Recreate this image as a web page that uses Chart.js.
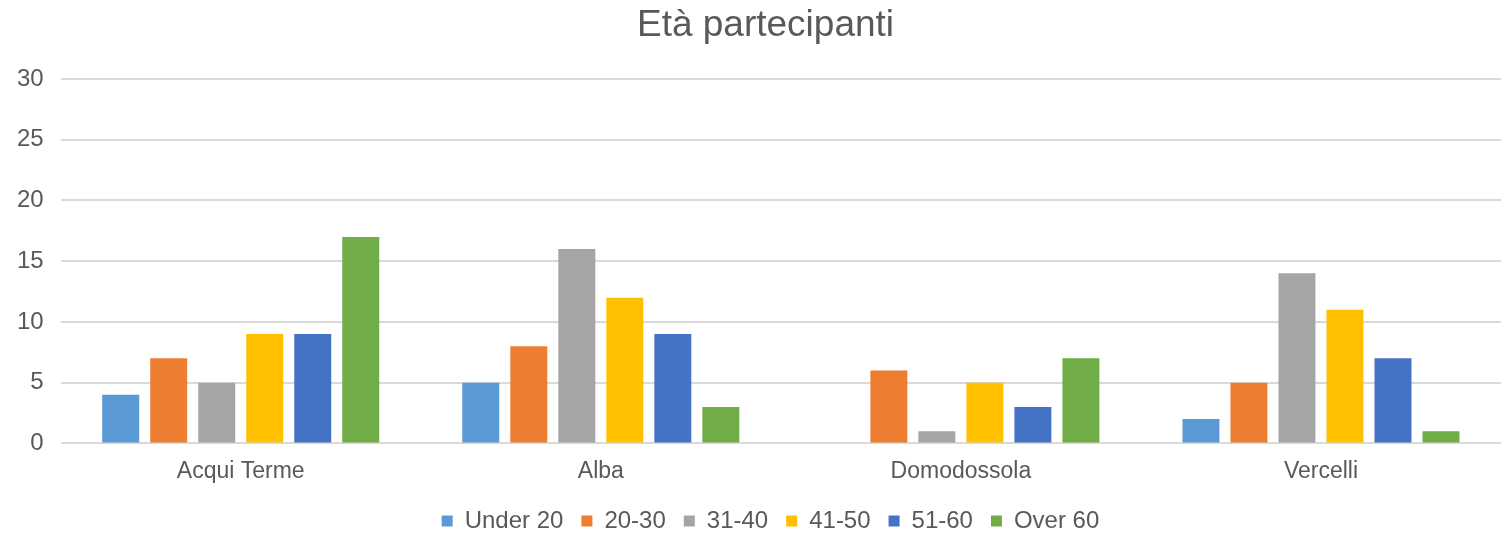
<!DOCTYPE html>
<html>
<head>
<meta charset="utf-8">
<script src="https://cdn.jsdelivr.net/npm/chart.js@4/dist/chart.umd.min.js"></script>
<style>
  html, body { margin: 0; padding: 0; background: #fff; }
  #wrap { width: 1501px; height: 533px; }
</style>
</head>
<body>
<div id="wrap"><canvas id="chart"></canvas></div>
<script>
// data
const chartTitle = "Età partecipanti";
const cities = ["Acqui Terme", "Alba", "Domodossola", "Vercelli"];
const seriesNames = ["Under 20", "20-30", "31-40", "41-50", "51-60", "Over 60"];
const under20 = [4, 5, 0, 2];
const age20to30 = [7, 8, 6, 5];
const age31to40 = [5, 16, 1, 14];
const age41to50 = [9, 12, 5, 11];
const age51to60 = [9, 9, 3, 7];
const over60 = [17, 3, 7, 1];
const yTicks = [0, 5, 10, 15, 20, 25, 30];

const colors = ["#5B9BD5", "#ED7D31", "#A5A5A5", "#FFC000", "#4472C4", "#70AD47"];
const values = [under20, age20to30, age31to40, age41to50, age51to60, over60];

const datasets = seriesNames.map((name, i) => ({
    label: name,
    data: values[i],
    backgroundColor: colors[i],
    borderWidth: 0,
    barPercentage: 0.77,
    categoryPercentage: 0.8
}));

Chart.defaults.font.family = "'Liberation Sans', Arial, sans-serif";
Chart.defaults.color = "#595959";

// title drawn by hand so it can sit a bit right of the canvas centre, like the original
const titlePlugin = {
    id: "titleText",
    afterLayout(chart) {
        // the original legend sits a little right of centre too
        chart.legend.left += 10;
        chart.legend.right += 10;
    },
    afterDraw(chart) {
        const ctx = chart.ctx;
        ctx.save();
        ctx.font = "37px 'Liberation Sans', Arial, sans-serif";
        ctx.fillStyle = "#595959";
        ctx.textAlign = "center";
        ctx.textBaseline = "middle";
        ctx.fillText(chartTitle, chart.width / 2 + 15, 26);
        ctx.restore();
    }
};

new Chart(document.getElementById("chart"), {
    type: "bar",
    data: { labels: cities, datasets: datasets },
    plugins: [titlePlugin],
    options: {
        responsive: true,
        maintainAspectRatio: false,
        animation: false,
        layout: { padding: { left: 0, right: -20, top: 79, bottom: -10 } },
        plugins: {
            title: { display: false },
            legend: {
                position: "bottom",
                labels: {
                    boxWidth: 11,
                    boxHeight: 11,
                    font: { size: 24 },
                    color: "#595959",
                    padding: 18
                }
            },
            tooltip: { enabled: false }
        },
        scales: {
            x: {
                grid: { display: false },
                border: { display: false },
                ticks: { font: { size: 23 }, color: "#595959", padding: 6 }
            },
            y: {
                min: 0,
                max: 30,
                afterBuildTicks: axis => { axis.ticks = yTicks.map(v => ({ value: v })); },
                grid: { color: "#D9D9D9", lineWidth: 2, drawTicks: false },
                border: { display: false },
                ticks: { font: { size: 24 }, color: "#595959", padding: 17 }
            }
        }
    }
});
</script>
</body>
</html>
